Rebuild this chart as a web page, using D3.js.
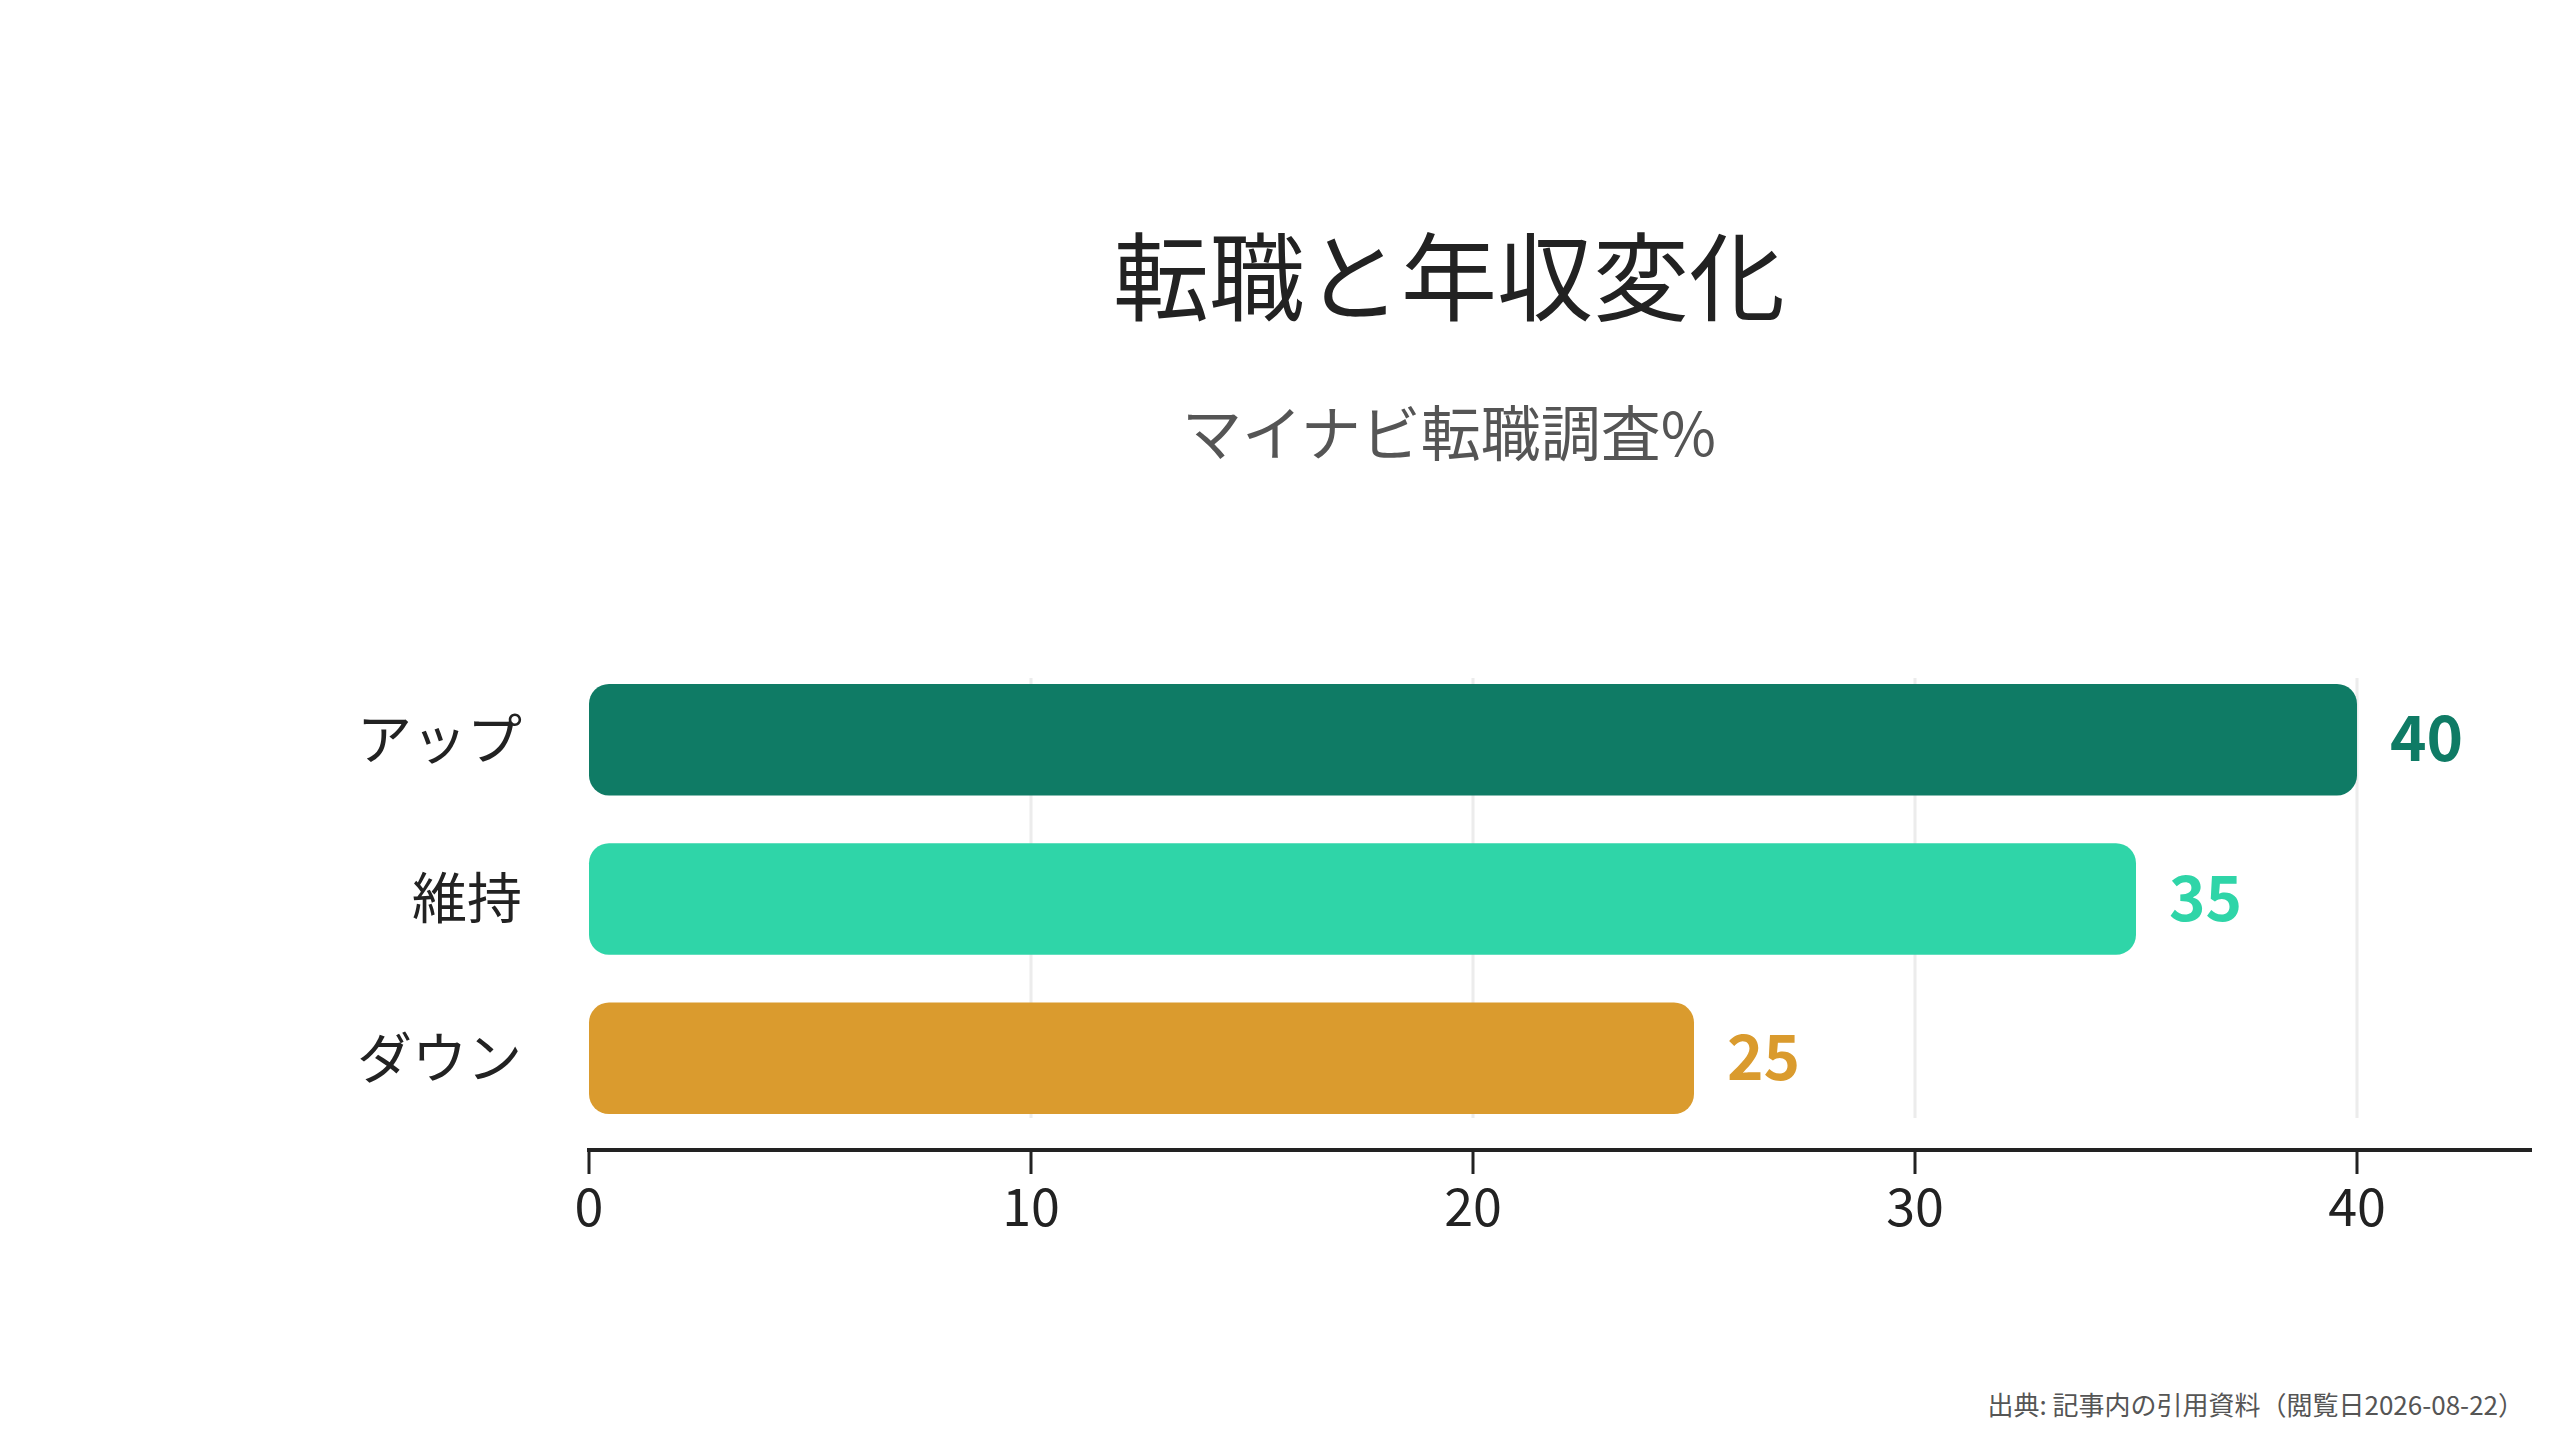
<!DOCTYPE html>
<html><head><meta charset="utf-8">
<script src="https://cdn.jsdelivr.net/npm/d3@7"></script>
<style>body{margin:0;background:#fff}svg{display:block}text{font-family:"Noto Sans CJK JP","Noto Sans",sans-serif}</style>
</head><body>
<script>
const categories = ["アップ", "維持", "ダウン"];
const values = [40, 35, 25];
const colors = ["#0f7b65", "#2fd5a8", "#da9b2e"];
const ticks = [0, 10, 20, 30, 40];

const W = 2560, H = 1440;
const svg = d3.select("body").append("svg").attr("width", W).attr("height", H);

const x = d3.scaleLinear().domain([0, 40]).range([589, 2357]);
const y = d3.scaleBand().domain(categories).range([668, 1130]).paddingInner(0.3).paddingOuter(0.1);

// grid
svg.selectAll(".grid").data(ticks.slice(1)).enter().append("line")
  .attr("x1", d => x(d)).attr("x2", d => x(d))
  .attr("y1", y.range()[0] + 10).attr("y2", 1118)
  .attr("stroke", "#ececec").attr("stroke-width", 3);

svg.selectAll(".bar").data(values).enter().append("rect")
  .attr("x", x(0)).attr("y", (d, i) => y(categories[i]))
  .attr("width", d => x(d) - x(0)).attr("height", y.bandwidth())
  .attr("rx", 20).attr("fill", (d, i) => colors[i]);

svg.selectAll(".val").data(values).enter().append("text")
  .attr("x", d => x(d) + 33).attr("y", (d, i) => y(categories[i]) + y.bandwidth() / 2)
  .attr("dy", "0.35em").attr("font-size", 62).attr("font-weight", 700)
  .attr("fill", (d, i) => colors[i]).text(d => d);

svg.selectAll(".cat").data(categories).enter().append("text")
  .attr("x", 522).attr("y", d => y(d) + y.bandwidth() / 2).attr("dy", "0.35em")
  .attr("text-anchor", "end").attr("font-size", 55).attr("fill", "#222").text(d => d);

// x axis
const ax = svg.append("g").attr("transform", "translate(0,1150)");
ax.append("line").attr("x1", x(0) - 2).attr("x2", 2532).attr("stroke", "#222").attr("stroke-width", 4);
ax.selectAll(".tk").data(ticks).enter().append("line")
  .attr("x1", d => x(d)).attr("x2", d => x(d)).attr("y1", 0).attr("y2", 24)
  .attr("stroke", "#222").attr("stroke-width", 3);
ax.selectAll(".tl").data(ticks).enter().append("text")
  .attr("x", d => x(d)).attr("y", 58).attr("dy", "0.35em").attr("text-anchor", "middle")
  .attr("font-size", 52).attr("fill", "#222").text(d => d);

svg.append("text").attr("x", 1449).attr("y", 279).attr("dy", "0.35em").attr("text-anchor", "middle")
  .attr("font-size", 96).attr("fill", "#222").text("転職と年収変化");
svg.append("text").attr("x", 1449).attr("y", 435).attr("dy", "0.35em").attr("text-anchor", "middle")
  .attr("font-size", 60).attr("fill", "#555").text("マイナビ転職調査%");
svg.append("text").attr("x", 2524).attr("y", 1406).attr("dy", "0.35em").attr("text-anchor", "end")
  .attr("font-size", 26).attr("fill", "#555").text("出典: 記事内の引用資料（閲覧日2026-08-22）");
</script>
</body></html>
